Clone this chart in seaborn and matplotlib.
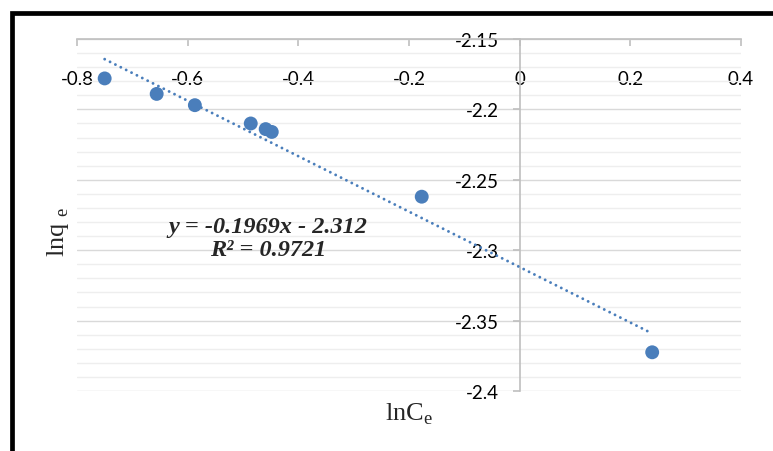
import matplotlib
matplotlib.use("Agg")
import matplotlib.pyplot as plt
from matplotlib.patches import Rectangle
from matplotlib.ticker import MultipleLocator
import numpy as np
import pandas as pd
import seaborn as sns

# ---- data ----
ln_ce = [-0.750, -0.656, -0.587, -0.486, -0.459, -0.448, -0.177, 0.2395]
ln_qe = [-2.178, -2.189, -2.197, -2.210, -2.214, -2.216, -2.262, -2.3725]
trend_slope = -0.1969
trend_intercept = -2.312
eq_text = "y = -0.1969x - 2.312\nR² = 0.9721"
x_ticks = [-0.8, -0.6, -0.4, -0.2, 0, 0.2, 0.4]
x_tick_labels = ["-0.8", "-0.6", "-0.4", "-0.2", "0", "0.2", "0.4"]
y_ticks = [-2.4, -2.35, -2.3, -2.25, -2.2, -2.15]
y_tick_labels = ["-2.4", "-2.35", "-2.3", "-2.25", "-2.2", "-2.15"]
x_title = "lnC$_\\mathregular{e}$"
y_title = "lnq $_\\mathregular{e}$"

sns.set_theme(style="white")
plt.rcParams["font.family"] = ["Lato", "DejaVu Sans"]
plt.rcParams["mathtext.fontset"] = "custom"
plt.rcParams["mathtext.rm"] = "Liberation Serif"

df = pd.DataFrame({"x": ln_ce, "y": ln_qe})
xs = np.array([min(ln_ce), max(ln_ce)])
trend = pd.DataFrame({"x": xs, "y": trend_slope * xs + trend_intercept})

fig = plt.figure(figsize=(7.73, 4.52), dpi=100)
ax = fig.add_axes([77 / 773, 1 - 392 / 452, (741 - 77) / 773, (392 - 40) / 452])

blue = "#4a7ebb"
sns.lineplot(data=trend, x="x", y="y", ax=ax, color=blue, lw=2.1,
             linestyle=(0, (0.01, 2.05)), dash_capstyle="round", zorder=3)
sns.scatterplot(data=df, x="x", y="y", ax=ax, color=blue, s=100,
                edgecolor="none", zorder=4)

ax.set_xlim(-0.8, 0.4)
ax.set_ylim(-2.4, -2.15)
ax.set_xticks(x_ticks, x_tick_labels)
ax.set_yticks(y_ticks, y_tick_labels)
ax.yaxis.set_minor_locator(MultipleLocator(0.01))

ax.grid(False)
ax.grid(axis="y", which="major", color="#d9d9d9", lw=1.0, zorder=0)
ax.grid(axis="y", which="minor", color="#eeeeee", lw=1.0, zorder=0)
ax.set_axisbelow(True)

for s in ["top", "right"]:
    ax.spines[s].set_visible(False)
ax.spines["left"].set_position(("data", 0))
ax.spines["bottom"].set_position(("data", -2.15))
for s in ["left", "bottom"]:
    ax.spines[s].set_color("#bfbfbf")
    ax.spines[s].set_linewidth(1.2)
    ax.spines[s].set_zorder(1)

ax.tick_params(axis="x", which="major", direction="out", length=5, width=1.2,
               color="#bfbfbf", labelsize=13.5, labelcolor="black", pad=17,
               bottom=True)
ax.tick_params(axis="y", which="major", direction="out", length=5, width=1.2,
               color="#bfbfbf", labelsize=13.5, labelcolor="black", pad=10,
               left=True)
ax.tick_params(axis="y", which="minor", length=0)

ax.set_xlabel(x_title, fontsize=19, family="Liberation Serif")
ax.set_ylabel(y_title, fontsize=19, family="Liberation Serif")
ax.xaxis.set_label_coords(0.5, -0.028)
ax.yaxis.set_label_coords(-0.028, 0.455)
ax.yaxis.label.set_va("center")

ax.text(0.288, 0.435, eq_text, transform=ax.transAxes, ha="center",
        va="center", multialignment="center", fontsize=17.5,
        family="Liberation Serif", fontweight="bold", fontstyle="italic",
        linespacing=1.1)

fig.add_artist(Rectangle((11.5 / 773, -0.2), 1.2, 1.2 - 13.5 / 452,
                         transform=fig.transFigure, fill=False,
                         edgecolor="black", lw=3.4, clip_on=False))

fig.savefig("out.png", dpi=100)
